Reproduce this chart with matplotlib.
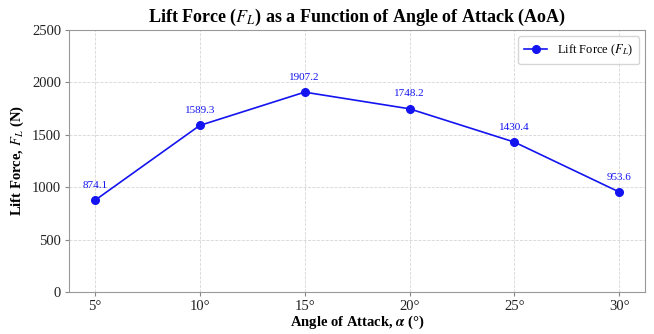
import matplotlib
matplotlib.use("Agg")
import matplotlib.pyplot as plt

# Lift force vs. angle of attack
angles = [5, 10, 15, 20, 25, 30]
lift = [874.1, 1589.3, 1907.2, 1748.2, 1430.4, 953.6]
angle_labels = ["5°", "10°", "15°", "20°", "25°", "30°"]
y_ticks = [0, 500, 1000, 1500, 2000, 2500]


def main():
    plt.rcParams["font.family"] = ["Liberation Serif", "DejaVu Serif"]
    plt.rcParams["mathtext.fontset"] = "stix"

    fig, ax = plt.subplots(figsize=(6.54, 3.34), dpi=100)

    ax.plot(angles, lift, color="#1414f0", marker="o", markersize=5.5,
            linewidth=1.2, label=r"Lift Force ($\boldsymbol{F_L}$)")

    # Value labels above each point
    for a, v in zip(angles, lift):
        ax.annotate(f"{v:.1f}", (a, v), textcoords="offset points",
                    xytext=(0, 9), ha="center", fontsize=8, color="#1414f0")

    ax.set_xticks(angles)
    ax.set_xticklabels(angle_labels)
    ax.set_yticks(y_ticks)
    ax.set_ylim(0, 2500)

    ax.set_title(r"Lift Force ($\boldsymbol{F_L}$) as a Function of Angle of Attack (AoA)",
                 fontsize=13, fontweight="bold", pad=6)
    ax.set_xlabel(r"Angle of Attack, $\boldsymbol{\alpha}$ (°)", fontsize=10.5,
                  fontweight="bold", labelpad=1)
    ax.set_ylabel(r"Lift Force, $\boldsymbol{F_L}$ (N)", fontsize=10.5,
                  fontweight="bold", labelpad=4)

    ax.grid(True, linestyle="--", color="#cccccc", linewidth=0.6, alpha=0.8)
    for s in ax.spines.values():
        s.set_color("#999999")
    ax.tick_params(colors="#888888", labelcolor="#222222", labelsize=10.5,
                   length=3, pad=2.5)

    ax.legend(loc="upper right", fontsize=9, frameon=True, edgecolor="#cccccc",
              borderpad=0.5, handlelength=1.8)

    fig.subplots_adjust(left=0.105, right=0.987, top=0.910, bottom=0.126)
    fig.savefig("out.png", dpi=100)


if __name__ == "__main__":
    main()
